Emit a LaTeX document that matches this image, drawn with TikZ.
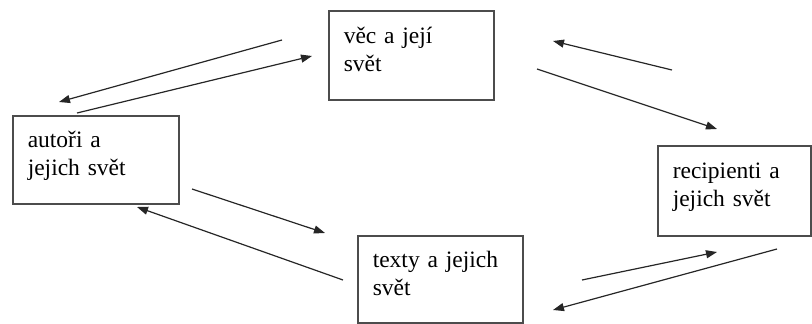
\documentclass[tikz,border=0pt]{standalone}
\usepackage{fontspec}
\setmainfont{Liberation Serif}
\usetikzlibrary{arrows.meta}
\tikzset{
	box/.style={draw=black!70, line width=1.5pt, anchor=north west, align=left,
		inner xsep=15pt, inner ysep=0pt, text depth=40pt, font=\fontsize{23.5}{28}\selectfont},
	sipka/.style={draw=black!85, line width=1.2pt, -{Triangle[length=11pt,width=8pt]}}
}
\begin{document}
\begin{tikzpicture}[x=1pt,y=-1pt]
			\useasboundingbox (0,0) rectangle (812,324);
			\node[box, text width=135pt, minimum height=89pt] (vec) at (328,10) {věc a její\\svět};
			\node[box, text width=136pt, minimum height=88pt] (autori) at (12,115) {autoři a\\jejich svět};
			\node[box, text width=123pt, minimum height=90pt] (recip) at (657,145) {recipienti a\\jejich svět};
			\node[box, text width=135pt, minimum height=87pt] (texty) at (357,235) {texty a jejich\\svět};
			% volne konce sipek
			\foreach \n/\x/\y in {a1s/282/40, a1e/59/102, a2s/77/113, a2e/312/56,
				a3s/672/70, a3e/553/41, a4s/537/69, a4e/717/129,
				a5s/192/189, a5e/325/233, a6s/343/280, a6e/137/207,
				a7s/582/280, a7e/717/252, a8s/777/249, a8e/553/310}{
				\coordinate (\n) at (\x,\y);
			}
			\foreach \i in {1,...,8}{
				\draw[sipka] (a\i s) -- (a\i e);
			}
		\end{tikzpicture}
\end{document}
